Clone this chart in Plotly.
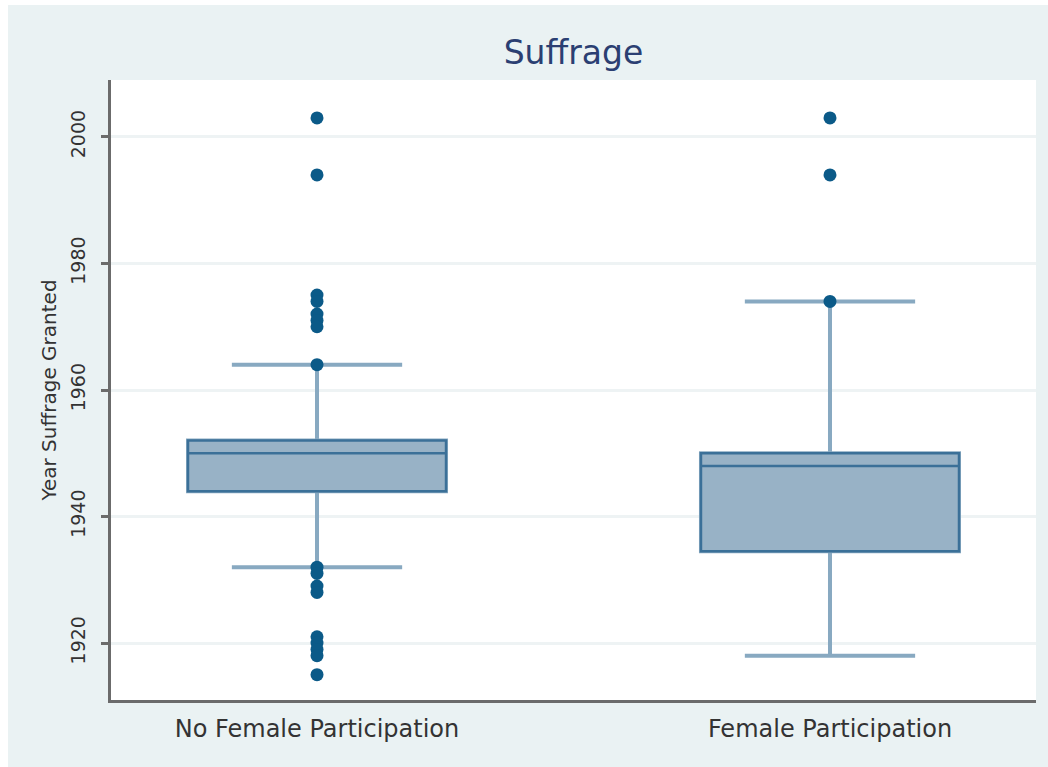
import plotly.graph_objects as go

categories = ["No Female Participation", "Female Participation"]
q1 = [1944, 1934.5]
median = [1950, 1948]
q3 = [1952, 1950]
lower_fence = [1932, 1918]
upper_fence = [1964, 1974]

outliers_no_female = [2003, 1994, 1975, 1974, 1972, 1971, 1970, 1964,
                      1932, 1931, 1929, 1928, 1921, 1920, 1919, 1918, 1915]
outliers_female = [2003, 1994, 1974]

y_ticks = [1920, 1940, 1960, 1980, 2000]

whisker_color = "#88a9c1"
box_line = "#3b7098"
box_fill = "#98b2c6"
marker_color = "#0b5a88"
font_family = "DejaVu Sans, Liberation Sans, Arial, sans-serif"

FIG_W, FIG_H = 1048, 770

fig = go.Figure()

# whiskers (lighter lines)
fig.add_trace(go.Box(
    x=categories, q1=q1, median=median, q3=q3,
    lowerfence=lower_fence, upperfence=upper_fence,
    width=0.503, whiskerwidth=0.66,
    line=dict(color=whisker_color, width=4),
    fillcolor=box_fill, boxpoints=False, showlegend=False, hoverinfo="skip",
))
# box body (darker outline, no whiskers)
fig.add_trace(go.Box(
    x=categories, q1=q1, median=median, q3=q3,
    lowerfence=q1, upperfence=q3,
    width=0.503, whiskerwidth=0,
    line=dict(color=box_line, width=2.5),
    fillcolor=box_fill, boxpoints=False, showlegend=False,
))

fig.add_trace(go.Scatter(
    x=[categories[0]] * len(outliers_no_female) + [categories[1]] * len(outliers_female),
    y=outliers_no_female + outliers_female,
    mode="markers",
    marker=dict(color=marker_color, size=13),
    showlegend=False,
))

fig.update_layout(
    width=FIG_W, height=FIG_H,
    margin=dict(l=103, r=20, t=75, b=75),
    paper_bgcolor="#eaf2f3",
    plot_bgcolor="#ffffff",
    boxmode="overlay",
    font=dict(family=font_family, color="#333333"),
    title=dict(text="Suffrage", x=0.5, xref="paper", xanchor="center",
               y=1 - 47 / FIG_H, yref="container", yanchor="middle",
               font=dict(size=33, color="#2b3f72", family=font_family)),
)

fig.update_xaxes(
    type="category", categoryorder="array", categoryarray=categories,
    range=[-0.4016, 1.4016],
    showline=True, linecolor="#6b6b6b", linewidth=3,
    showgrid=False, zeroline=False,
    ticks="outside", ticklen=5, tickcolor="rgba(0,0,0,0)",
    tickfont=dict(size=24, color="#333333"),
)

fig.update_yaxes(
    range=[1911, 2009],
    tickvals=y_ticks, ticktext=[str(v) for v in y_ticks],
    tickangle=-90,
    showline=True, linecolor="#6b6b6b", linewidth=3,
    ticks="outside", ticklen=7, tickwidth=3, tickcolor="#6b6b6b",
    ticklabelstandoff=8,
    showgrid=True, gridcolor="#eef3f4", gridwidth=3,
    zeroline=False,
    tickfont=dict(size=19, color="#333333"),
    title=dict(text="Year Suffrage Granted", standoff=6,
               font=dict(size=20, color="#333333")),
)

post = ("document.documentElement.style.overflow='hidden';"
        "document.body.style.margin='5px 0 0 8px';"
        "document.body.style.overflow='hidden';")
fig.write_html("out.html", post_script=post)
